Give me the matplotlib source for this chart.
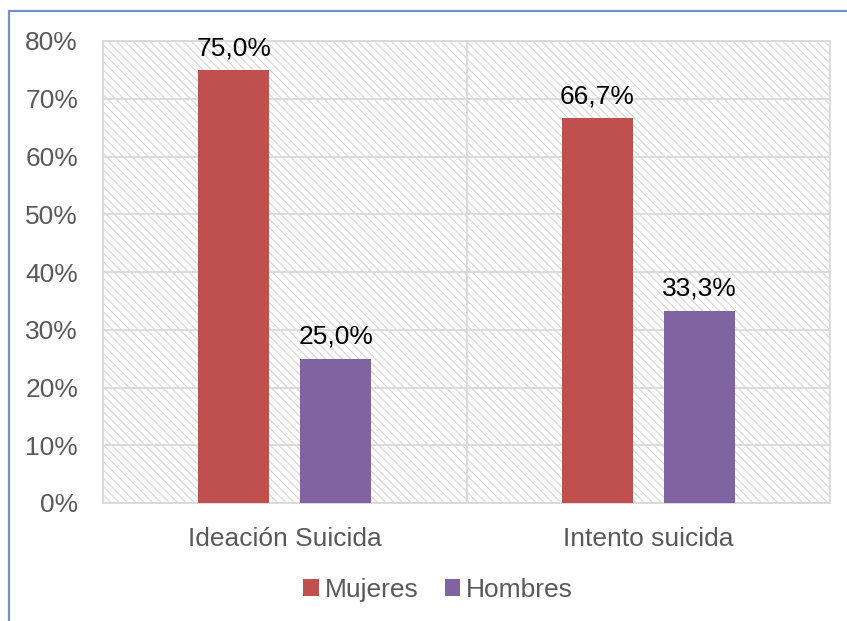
import matplotlib.pyplot as plt
from matplotlib.patches import Rectangle
import numpy as np

plt.rcParams['font.family'] = ['Liberation Sans', 'DejaVu Sans']
plt.rcParams['hatch.linewidth'] = 0.8
plt.rcParams['hatch.color'] = '#d6d6d6'

categories = ["Ideación Suicida", "Intento suicida"]
mujeres = [75.0, 66.7]
hombres = [25.0, 33.3]
series_names = ["Mujeres", "Hombres"]
colors = ["#C0504D", "#8064A2"]

fig = plt.figure(figsize=(8.47, 6.21), dpi=100)
ax = fig.add_axes([103 / 847, 1 - 503 / 621, 727 / 847, 462 / 621])

# hatched plot background
ax.add_patch(Rectangle((0, 0), 1, 1, transform=ax.transAxes, facecolor="white",
                       edgecolor="#d6d6d6", hatch="\\\\\\\\", linewidth=0, zorder=0))

x = np.arange(len(categories))
w = 0.195
off = 0.14
b1 = ax.bar(x - off, mujeres, w, color=colors[0], label=series_names[0], zorder=3)
b2 = ax.bar(x + off, hombres, w, color=colors[1], label=series_names[1], zorder=3)

for bars, vals in [(b1, mujeres), (b2, hombres)]:
    for r, v in zip(bars, vals):
        ax.annotate(f"{v:.1f}%".replace(".", ","), (r.get_x() + r.get_width() / 2, v),
                    xytext=(0, 7), textcoords="offset points", ha="center", va="bottom",
                    fontsize=19, color="#000000")

ax.set_xlim(-0.5, 1.5)
ax.set_ylim(0, 80)
ax.set_yticks(range(0, 81, 10))
ax.set_yticklabels([f"{t}%" for t in range(0, 81, 10)])
ax.set_xticks(x)
ax.set_xticklabels(categories)
ax.tick_params(axis="y", length=0, pad=18, labelsize=19, labelcolor="#595959")
ax.tick_params(axis="x", length=0, pad=17, labelsize=19, labelcolor="#595959")

ax.yaxis.grid(True, color="#d9d9d9", linewidth=1.3, zorder=1)
ax.set_axisbelow(True)
for xv in [0.5]:
    ax.axvline(xv, color="#d9d9d9", linewidth=1.3, zorder=1)
for s in ax.spines.values():
    s.set_color("#d9d9d9")
    s.set_linewidth(1.3)

leg = ax.legend(loc="center", bbox_to_anchor=(438 / 847, 1 - 590 / 621),
                bbox_transform=fig.transFigure, ncol=2, frameon=False, fontsize=19,
                handlelength=0.6, handleheight=0.6, handletextpad=0.2, columnspacing=1.0)
for t in leg.get_texts():
    t.set_color("#595959")

# blue outer border (cropped on right and bottom)
fig.add_artist(Rectangle((9 / 847, -0.1), 1.2, 1.1 - 11 / 621, transform=fig.transFigure,
                         fill=False, edgecolor="#6f93c8", linewidth=1.6))

fig.savefig("out.png", dpi=100)
